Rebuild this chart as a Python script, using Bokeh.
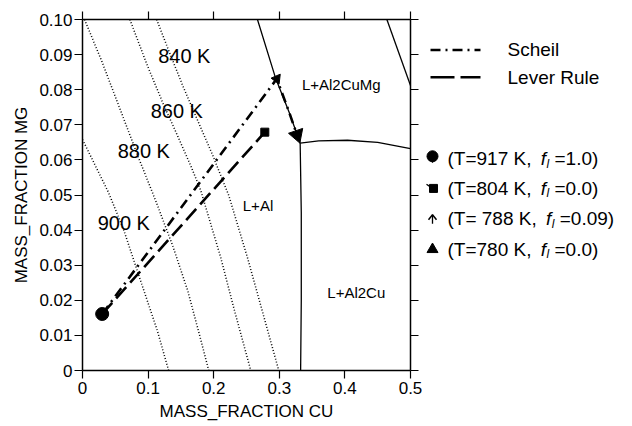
import numpy as np
from bokeh.plotting import figure
from bokeh.layouts import row
from bokeh.models import (Range1d, LinearAxis, FixedTicker, Label)
from bokeh.core.properties import value
from bokeh.embed import file_html
from bokeh.resources import INLINE

# ---------------- data (mass fractions) ----------------
x_ticks = ["0", "0.1", "0.2", "0.3", "0.4", "0.5"]
y_ticks = ["0", "0.01", "0.02", "0.03", "0.04", "0.05", "0.06", "0.07", "0.08", "0.09", "0.10"]

# isotherms (dotted)
iso_900_cu = [0.0, 0.0397, 0.0631, 0.0885, 0.1140, 0.1313]
iso_900_mg = [0.0658, 0.0507, 0.0399, 0.0256, 0.0114, 0.0]
iso_880_cu = [0.0031, 0.0290, 0.0580, 0.0840, 0.1115, 0.1374, 0.1603, 0.1786, 0.1924]
iso_880_mg = [0.1, 0.0883, 0.0741, 0.0613, 0.0484, 0.0356, 0.0228, 0.0100, 0.0]
iso_860_cu = [0.0722, 0.0988, 0.1241, 0.1446, 0.1649, 0.1802, 0.2107, 0.2305, 0.2565]
iso_860_mg = [0.1, 0.0869, 0.0755, 0.0670, 0.0584, 0.0513, 0.0322, 0.0179, 0.0]
iso_840_cu = [0.1130, 0.1313, 0.1527, 0.1756, 0.1985, 0.2229, 0.2514, 0.2768, 0.2992]
iso_840_mg = [0.1, 0.0912, 0.0812, 0.0712, 0.0613, 0.0499, 0.0322, 0.0151, 0.0]
iso_names = ["900 K", "880 K", "860 K", "840 K"]

# phase boundaries (solid)
b_upper_cu = [0.2667, 0.2947, 0.3150, 0.3318]
b_upper_mg = [0.1, 0.0831, 0.0736, 0.0648]
b_vert_cu = [0.3318, 0.3335, 0.3335, 0.3325]
b_vert_mg = [0.0648, 0.045, 0.020, 0.0]
b_horiz_cu = [0.3318, 0.36, 0.404, 0.45, 0.50]
b_horiz_mg = [0.0648, 0.0654, 0.0656, 0.0650, 0.0632]
b_corner_cu = [0.464, 0.50]
b_corner_mg = [0.10, 0.0812]
regions = ["L+Al", "L+Al2CuMg", "L+Al2Cu"]

# solidification paths
scheil_cu = [0.030, 0.2962, 0.3150, 0.3300]
scheil_mg = [0.0161, 0.0831, 0.0736, 0.0655]
lever_cu = [0.030, 0.2779]
lever_mg = [0.0161, 0.0679]

legend_names = ["Scheil", "Lever Rule"]
states = ["(T=917 K, ", "(T=804 K, ", "(T= 788 K, ", "(T=780 K, "]
fl_values = ["=1.0)", "=0.0)", "=0.09)", "=0.0)"]

# ---------------- layout ----------------
W, H = 632, 426
FL, FR, FT, FB = 82, 410, 19, 370
MAIN_W = 422
XMAX, YMAX = 0.5, 0.1
FONT = "Liberation Sans"
SCHEIL_DASH = "10 5 2 5"
LEVER_DASH = "15 6"

def sx(px):
    return (px - FL) / (FR - FL) * XMAX

def sy(py):
    return (FB - py) / (FB - FT) * YMAX

p = figure(width=MAIN_W, height=H, output_backend="svg", toolbar_location=None,
           x_range=Range1d(0, XMAX), y_range=Range1d(0, YMAX),
           min_border_left=FL, min_border_right=MAIN_W - FR,
           min_border_top=FT, min_border_bottom=H - FB,
           x_axis_label="MASS_FRACTION CU", y_axis_label="MASS_FRACTION MG")
p.grid.visible = False
p.outline_line_color = None
p.background_fill_color = "white"
p.border_fill_color = "white"

xt = [float(s) for s in x_ticks]
yt = [float(s) for s in y_ticks]
bottom_ax = p.below[0]
left_ax = p.left[0]
bottom_ax.ticker = FixedTicker(ticks=xt)
left_ax.ticker = FixedTicker(ticks=yt)
bottom_ax.major_label_overrides = {v: s for v, s in zip(xt, x_ticks)}
left_ax.major_label_overrides = {v: s for v, s in zip(yt, y_ticks)}

# frame-closing axes: ticks only, labels not drawn
top_ax = LinearAxis(ticker=FixedTicker(ticks=xt), major_label_text_font_size="1px",
                    major_label_standoff=0, major_label_text_color=None)
right_ax = LinearAxis(ticker=FixedTicker(ticks=yt), major_label_text_font_size="1px",
                      major_label_standoff=0, major_label_text_color=None)
p.add_layout(top_ax, "above")
p.add_layout(right_ax, "right")

for ax in [bottom_ax, left_ax, top_ax, right_ax]:
    ax.axis_line_width = 1.5
    ax.axis_line_color = "black"
    ax.major_tick_line_width = 1.2
    ax.major_tick_line_color = "black"
    ax.major_tick_out = 8
    ax.major_tick_in = 0
    ax.minor_tick_line_color = None
    ax.major_label_text_font = FONT
    ax.axis_label_text_font = FONT
    ax.axis_label_text_font_style = "normal"
    ax.axis_label_text_color = "black"

for ax in [bottom_ax, left_ax]:
    ax.major_label_text_color = "black"
    ax.major_label_text_font_size = "17px"
    ax.axis_label_text_font_size = "17px"
bottom_ax.major_label_standoff = 3
bottom_ax.axis_label_standoff = 5
left_ax.major_label_standoff = 2
left_ax.axis_label_standoff = 5

# isotherms
for cu, mg in [(iso_900_cu, iso_900_mg), (iso_880_cu, iso_880_mg),
               (iso_860_cu, iso_860_mg), (iso_840_cu, iso_840_mg)]:
    p.line(cu, mg, line_color="black", line_width=1.5, line_dash="1 2")

# boundaries
for cu, mg in [(b_upper_cu, b_upper_mg), (b_vert_cu, b_vert_mg),
               (b_horiz_cu, b_horiz_mg), (b_corner_cu, b_corner_mg)]:
    p.line(cu, mg, line_color="black", line_width=1.3)

# paths
p.line(scheil_cu, scheil_mg, line_color="black", line_width=2.6, line_dash=SCHEIL_DASH)
p.line(lever_cu, lever_mg, line_color="black", line_width=2.6, line_dash=LEVER_DASH)

# markers
sxp = (FR - FL) / XMAX   # px per unit cu
syp = (FB - FT) / YMAX   # px per unit mg

def heading(x0, y0, x1, y1):
    return np.arctan2((y1 - y0) * syp, (x1 - x0) * sxp) - np.pi / 2

p.scatter([scheil_cu[0]], [scheil_mg[0]], marker="circle", size=13, color="black")
p.scatter([lever_cu[-1]], [lever_mg[-1]], marker="square", size=8, color="black")
a1 = heading(scheil_cu[0], scheil_mg[0], scheil_cu[1], scheil_mg[1])
p.scatter([scheil_cu[1]], [scheil_mg[1]], marker="triangle", size=10, color="black", angle=a1)
a2 = heading(scheil_cu[2], scheil_mg[2], scheil_cu[3], scheil_mg[3])
d = np.array([(scheil_cu[3] - scheil_cu[2]) * sxp, (scheil_mg[3] - scheil_mg[2]) * syp])
d = d / np.linalg.norm(d)
back = 6.0
p.scatter([scheil_cu[3] - d[0] * back / sxp], [scheil_mg[3] - d[1] * back / syp],
          marker="triangle", size=15, color="black", angle=a2)

# isotherm labels
iso_pos = [(123.3, 222.3), (143.3, 150.0), (176.3, 110.0), (183.8, 55.0)]
for name, (px, py) in zip(iso_names, iso_pos):
    p.add_layout(Label(x=sx(px), y=sy(py), text=name, text_font=FONT, text_font_size="20px",
                       text_align="center", text_baseline="middle", text_color="black"))

reg_pos = [(257.5, 205.0), (340.8, 84.0), (355.8, 292.3)]
for name, (px, py) in zip(regions, reg_pos):
    p.add_layout(Label(x=sx(px), y=sy(py), text=name, text_font=FONT, text_font_size="15px",
                       text_align="center", text_baseline="middle", text_color="black"))

# ---------------- right-hand key panel (pixel coordinates of the page) ----------------
k = figure(width=W - MAIN_W, height=H, output_backend="svg", toolbar_location=None,
           x_range=Range1d(MAIN_W, W), y_range=Range1d(H, 0),
           x_axis_location=None, y_axis_location=None,
           min_border=0, min_border_left=0, min_border_right=0,
           min_border_top=0, min_border_bottom=0)
k.grid.visible = False
k.outline_line_color = None
k.background_fill_color = "white"
k.border_fill_color = "white"

TS = 19
tfont = value(FONT)
# legend of the two paths
k.line([430, 480], [37, 37], line_color="black", line_width=2.6, line_dash=SCHEIL_DASH)
k.line([430, 480], [70, 70], line_color="black", line_width=2.6, line_dash="24 6")
k.text([507, 507], [36, 70], text=legend_names, text_font=tfont, text_font_size=f"{TS}px",
       text_baseline="middle", text_color="black")

# state markers
row_y = [169, 205, 242, 279]
SX = 432
k.scatter([SX], [row_y[0] - 3], marker="circle", size=11, color="black")
k.segment([SX], [row_y[0] - 3], [SX], [row_y[0] + 5], line_color="black", line_width=1.3)
k.scatter([SX + 1], [row_y[1]], marker="square", size=8, color="black")
k.segment([SX - 6], [row_y[1] - 5], [SX], [row_y[1]], line_color="black", line_width=1.3)
k.line([SX - 4, SX, SX + 4], [row_y[2] + 1, row_y[2] - 5, row_y[2] + 1],
       line_color="black", line_width=1.5)
k.segment([SX], [row_y[2] - 5], [SX], [row_y[2] + 6], line_color="black", line_width=1.3)
k.scatter([SX], [row_y[3]], marker="triangle", size=11, color="black")

arial = {'(': .333, ')': .333, 'T': .611, '=': .584, ' ': .278, 'K': .667, ',': .278,
         '.': .278, 'f': .278, 'l': .222}

def tw(s, size):
    return sum(arial.get(c, .556) for c in s) * size

x0 = 447
xs_state, xs_f, xs_l, xs_v = [], [], [], []
for st, fv in zip(states, fl_values):
    xf = x0 + tw(st, TS) + 4
    xl = xf + tw("f", TS) + 0.5
    xe = xl + tw("l", 12) + tw(" ", TS)
    xs_state.append(x0)
    xs_f.append(xf)
    xs_l.append(xl)
    xs_v.append(xe)

k.text(xs_state, row_y, text=states, text_font=tfont, text_font_size=f"{TS}px",
       text_baseline="middle", text_color="black")
k.text(xs_f, row_y, text=["f"] * 4, text_font=tfont, text_font_size=f"{TS}px",
       text_font_style="italic", text_baseline="middle", text_color="black")
k.text(xs_l, [y + 6 for y in row_y], text=["l"] * 4, text_font=tfont, text_font_size="12px",
       text_font_style="italic", text_baseline="middle", text_color="black")
k.text(xs_v, row_y, text=fl_values, text_font=tfont, text_font_size=f"{TS}px",
       text_baseline="middle", text_color="black")

layout = row(p, k, spacing=0)
open("out.html", "w").write(file_html(layout, INLINE))
